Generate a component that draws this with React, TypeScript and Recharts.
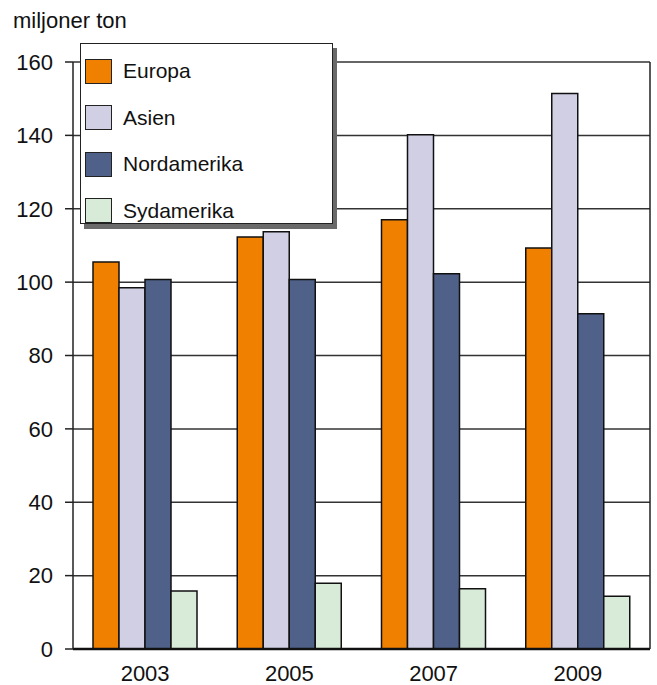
import React from 'react';
import { BarChart, Bar, XAxis, YAxis, CartesianGrid } from 'recharts';

// Values (miljoner ton)
const years = ['2003', '2005', '2007', '2009'];
const europa = [105.5, 112.3, 117.0, 109.3];
const asien = [98.5, 113.7, 140.2, 151.4];
const nordamerika = [100.7, 100.7, 102.3, 91.4];
const sydamerika = [15.8, 17.9, 16.4, 14.4];
const yTicks = [0, 20, 40, 60, 80, 100, 120, 140, 160];

const SERIES = [
  { key: 'Europa', color: '#f08000' },
  { key: 'Asien', color: '#d1cfe4' },
  { key: 'Nordamerika', color: '#4f6189' },
  { key: 'Sydamerika', color: '#d8ead8' },
];

const data = years.map((year, i) => ({
  year,
  Europa: europa[i],
  Asien: asien[i],
  Nordamerika: nordamerika[i],
  Sydamerika: sydamerika[i],
}));

const FONT = '"Liberation Sans", Arial, sans-serif';

if (typeof document !== 'undefined') {
  document.body.style.margin = '0';
}

// legend drawn as a plain box over the plot, like the original
const LegendBox = () => (
  <div
    style={{
      position: 'absolute',
      left: 80,
      top: 43,
      width: 253,
      height: 181,
      background: '#fff',
      border: '1.5px solid #222',
      boxShadow: '4px 5px 0 #6a6a6a',
      boxSizing: 'border-box',
      paddingTop: 4,
      paddingLeft: 4,
    }}
  >
    {SERIES.map((s) => (
      <div key={s.key} style={{ display: 'flex', alignItems: 'center', height: 46.5 }}>
        <div
          style={{
            width: 27,
            height: 25,
            background: s.color,
            border: '1.5px solid #222',
            boxSizing: 'border-box',
          }}
        />
        <span style={{ marginLeft: 11, fontSize: 21, color: '#111', fontFamily: FONT }}>{s.key}</span>
      </div>
    ))}
  </div>
);

export default function App() {
  return (
    <div style={{ position: 'relative', width: 657, height: 685, background: '#fff', fontFamily: FONT }}>
      <div style={{ position: 'absolute', left: 13, top: 8, fontSize: 22, color: '#111', lineHeight: '25px' }}>
        miljoner ton
      </div>
      <BarChart
        width={657}
        height={685}
        data={data}
        margin={{ top: 62, right: 6, left: 0, bottom: 0 }}
        barCategoryGap={19}
        barGap={0}
      >
        <CartesianGrid vertical={false} stroke="#333" strokeWidth={1.5} />
        <XAxis
          dataKey="year"
          height={36}
          tickLine={false}
          tickSize={0}
          tickMargin={16}
          axisLine={{ stroke: '#111', strokeWidth: 2.5 }}
          tick={{ fontSize: 22, fill: '#111', fontFamily: FONT }}
        />
        <YAxis
          domain={[0, 160]}
          ticks={yTicks}
          width={73}
          tickSize={8}
          tickMargin={12}
          tickLine={{ stroke: '#222', strokeWidth: 1.5 }}
          axisLine={{ stroke: '#222', strokeWidth: 1.5 }}
          tick={{ fontSize: 22, fill: '#111', fontFamily: FONT }}
        />
        <YAxis
          yAxisId="right"
          orientation="right"
          domain={[0, 160]}
          width={1}
          tick={false}
          tickLine={false}
          axisLine={{ stroke: '#222', strokeWidth: 1.5 }}
        />
        {SERIES.map((s) => (
          <Bar
            key={s.key}
            dataKey={s.key}
            fill={s.color}
            stroke="#111"
            strokeWidth={1.5}
            barSize={26}
            isAnimationActive={false}
          />
        ))}
      </BarChart>
      <LegendBox />
    </div>
  );
}
